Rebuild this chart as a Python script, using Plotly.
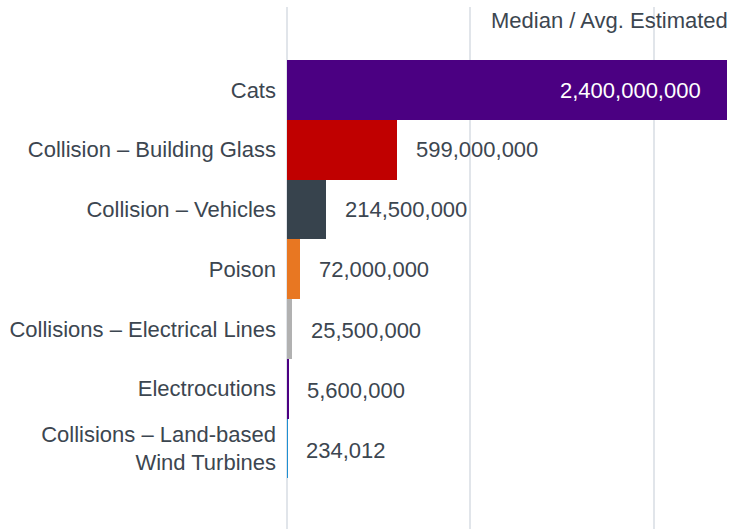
import plotly.graph_objects as go

categories = [
    "Cats",
    "Collision – Building Glass",
    "Collision – Vehicles",
    "Poison",
    "Collisions – Electrical Lines",
    "Electrocutions",
    "Collisions – Land-based<br>Wind Turbines",
]
values = [2400000000, 599000000, 214500000, 72000000, 25500000, 5600000, 234012]
colors = ["#4b0082", "#c00000", "#37434d", "#e87722", "#b1b1b1", "#4b0082", "#1e8fd2"]
title_text = "Median / Avg. Estimated"

FONT = "Liberation Sans, Arial, sans-serif"
TXT = "#3c4650"

fig = go.Figure()
fig.add_trace(go.Bar(
    y=categories, x=values, orientation="h",
    marker=dict(color=colors, line=dict(width=0)),
    hoverinfo="skip",
))

for i, (c, v) in enumerate(zip(categories, values)):
    label = f"{v:,}"
    if i == 0:
        fig.add_annotation(x=v, y=c, text=label, showarrow=False, xanchor="right",
                           xshift=-24, font=dict(family=FONT, size=22, color="white"))
    else:
        fig.add_annotation(x=v, y=c, text=label, showarrow=False, xanchor="left",
                           xshift=17, yshift=-2 if i >= 4 else 0,
                           font=dict(family=FONT, size=22, color=TXT))

fig.add_annotation(xref="paper", yref="paper", x=1, y=0.975, text=title_text,
                   showarrow=False, xanchor="right", yanchor="middle", xshift=3,
                   font=dict(family=FONT, size=22, color=TXT))

fig.update_layout(
    width=731, height=529,
    margin=dict(l=287, r=4, t=7, b=0),
    paper_bgcolor="white", plot_bgcolor="white",
    bargap=0, showlegend=False,
    font=dict(family=FONT, size=22, color=TXT),
)
fig.update_xaxes(range=[0, 2400000000], tickvals=[0, 1000000000, 2000000000],
                 showticklabels=False, showgrid=True, gridcolor="#e1e5ea", gridwidth=2,
                 zeroline=True, zerolinecolor="#e1e5ea", zerolinewidth=2, showline=False)
fig.update_yaxes(type="category", categoryorder="array", categoryarray=categories,
                 range=[7.35, -1.39], showgrid=False, ticks="", ticklabelstandoff=10,
                 tickfont=dict(family=FONT, size=22, color=TXT), showline=False)

fig.write_html("out.html", config={"displayModeBar": False},
               post_script="document.body.style.margin='0';document.body.style.overflow='hidden';")
